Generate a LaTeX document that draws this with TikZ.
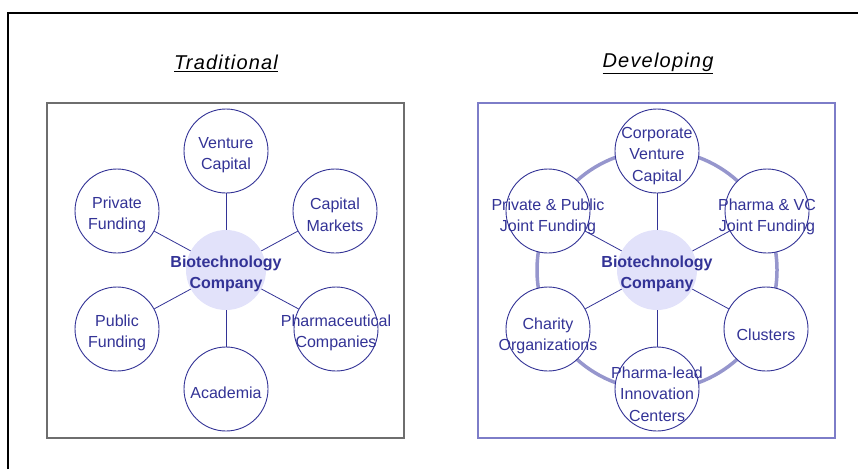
\documentclass[tikz,border=0pt]{standalone}
\usepackage{fontspec}
\setmainfont{Liberation Sans}
\usepackage{tikz}
\usetikzlibrary{arrows}

\definecolor{navy}{RGB}{51,51,150}
\definecolor{ringblue}{RGB}{150,150,205}
\definecolor{hubfill}{RGB}{226,226,250}
\definecolor{boxblue}{RGB}{125,125,200}
\definecolor{boxgray}{RGB}{110,110,110}

\tikzset{
  bubble/.style={circle, draw=navy, line width=0.9pt, fill=white, minimum size=84pt, inner sep=0pt},
  hub/.style={circle, fill=hubfill, minimum size=80pt, inner sep=0pt},
  spoke/.style={navy, line width=0.8pt},
  ring/.style={ringblue, line width=3.5pt},
  txt/.style={text=navy, align=center, yshift=-4pt, font=\fontsize{16}{21.5}\selectfont},
  hubtxt/.style={txt, font=\fontsize{16}{21.5}\selectfont\bfseries},
  heading/.style={font=\fontsize{20}{22}\selectfont\itshape\addfontfeature{LetterSpace=6}}
}

\begin{document}
\begin{tikzpicture}[x=1pt,y=-1pt]
   \useasboundingbox (0,0) rectangle (858,469);

   % Frame
   \draw[line width=1.5pt] (8,469) -- (8,13) -- (858,13);

   % Headings
   \node[heading] (trad) at (226,63) {\underline{Traditional}};
   \node[heading] (dev) at (658,63) {\underline{Developing}};

   % Boxes
   \draw[boxgray, line width=1.5pt] (47,103) rectangle (404,438);
   \draw[boxblue, line width=1.5pt] (478,103) rectangle (835,438);

   % Traditional
   \node[hub] (bio) at (226,270) {};
   \node[bubble] (vc) at (226,151) {};
   \node[bubble] (prf) at (117,211) {};
   \node[bubble] (cm) at (335,211) {};
   \node[bubble] (puf) at (117,329) {};
   \node[bubble] (pc) at (336,329) {};
   \node[bubble] (ac) at (226,389) {};
   \foreach \n in {vc,prf,cm,puf,pc,ac}
     \draw[spoke] (bio) -- (\n);
   \node[hubtxt] at (bio) {Biotechnology\\Company};
   \node[txt] at (vc) {Venture\\Capital};
   \node[txt] at (prf) {Private\\Funding};
   \node[txt] at (cm) {Capital\\Markets};
   \node[txt] at (puf) {Public\\Funding};
   \node[txt] at (pc) {Pharmaceutical\\Companies};
   \node[txt] at (ac) {Academia};

   % Developing
   \draw[ring] (657,270) circle[radius=120];
   \node[hub] (bio2) at (657,270) {};
   \node[bubble] (cvc) at (657,151) {};
   \node[bubble] (ppj) at (548,211) {};
   \node[bubble] (pvj) at (767,211) {};
   \node[bubble] (ch) at (548,329) {};
   \node[bubble] (cl) at (766,329) {};
   \node[bubble] (pl) at (657,389) {};
   \foreach \n in {cvc,ppj,pvj,ch,cl,pl}
     \draw[spoke] (bio2) -- (\n);
   \node[hubtxt] at (bio2) {Biotechnology\\Company};
   \node[txt] at ([yshift=-1pt]cvc) {Corporate\\Venture\\Capital};
   \node[txt] at ([yshift=-2pt]ppj) {Private \& Public\\Joint Funding};
   \node[txt] at ([yshift=-2pt]pvj) {Pharma \& VC\\Joint Funding};
   \node[txt] at ([yshift=-3pt]ch) {Charity\\Organizations};
   \node[txt] at ([yshift=-2pt]cl) {Clusters};
   \node[txt] at ([yshift=-1pt]pl) {Pharma-lead\\Innovation\\Centers};
\end{tikzpicture}
\end{document}
